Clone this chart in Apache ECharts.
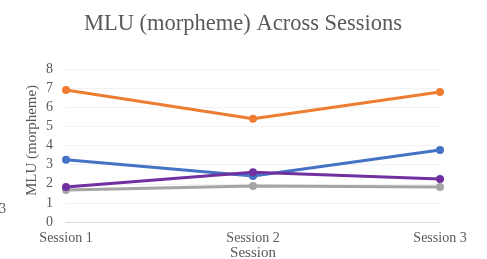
<!DOCTYPE html>
<html>
<head>
<meta charset="utf-8">
<script src="https://cdn.jsdelivr.net/npm/echarts@6/dist/echarts.min.js"></script>
<style>
  html, body { margin: 0; padding: 0; background: #fff; }
  #chart { width: 487px; height: 259px; }
</style>
</head>
<body>
<div id="chart"></div>
<script>
// data
const sessions = ['Session 1', 'Session 2', 'Session 3'];
const orangeVals = [6.9, 5.4, 6.8];
const blueVals = [3.25, 2.4, 3.77];
const purpleVals = [1.83, 2.6, 2.25];
const grayVals = [1.67, 1.88, 1.83];
const yTicks = [0, 1, 2, 3, 4, 5, 6, 7, 8];

const serif = '"Liberation Serif", "DejaVu Serif", serif';
const textColor = '#595959';

function line(name, data, color) {
  return {
    name: name,
    type: 'line',
    data: data,
    symbol: 'circle',
    symbolSize: 8,
    lineStyle: { width: 3, color: color },
    itemStyle: { color: color },
    z: 3
  };
}

const chart = echarts.init(document.getElementById('chart'));
chart.setOption({
  animation: false,
  title: {
    text: 'MLU (morpheme) Across Sessions',
    left: 238,
    textAlign: 'center',
    top: 8,
    textStyle: { fontFamily: serif, fontSize: 22.5, fontWeight: 'normal', color: textColor }
  },
  grid: { left: 66, right: 47, top: 69, bottom: 37, outerBoundsMode: 'none' },
  xAxis: {
    type: 'category',
    data: sessions,
    boundaryGap: false,
    name: 'Session',
    nameLocation: 'middle',
    nameGap: 24,
    nameMoveOverlap: false,
    nameTextStyle: { fontFamily: serif, fontSize: 15, color: textColor },
    axisLine: { lineStyle: { color: '#d9d9d9' } },
    axisTick: { show: false },
    axisLabel: { fontFamily: serif, fontSize: 14, color: textColor, margin: 9 }
  },
  yAxis: {
    type: 'value',
    min: yTicks[0],
    max: yTicks[yTicks.length - 1],
    interval: 1,
    name: 'MLU (morpheme)',
    nameLocation: 'middle',
    nameGap: 26,
    nameMoveOverlap: false,
    nameTextStyle: { fontFamily: serif, fontSize: 15, color: textColor, padding: [0, 0, 0, 10] },
    axisLine: { show: false },
    axisTick: { show: false },
    axisLabel: { fontFamily: serif, fontSize: 14, color: textColor, margin: 13 },
    splitLine: { lineStyle: { color: '#f2f2f2' } }
  },
  series: [
    line('Series A', orangeVals, '#ED7D31'),
    line('Series B', blueVals, '#4472C4'),
    line('Series C', grayVals, '#A5A5A5'),
    line('Series D', purpleVals, '#7030A0')
  ],
  graphic: [{
    type: 'text',
    left: -1,
    top: 202,
    style: { text: '3', fontFamily: serif, fontSize: 14, fill: textColor }
  }]
});
</script>
</body>
</html>
